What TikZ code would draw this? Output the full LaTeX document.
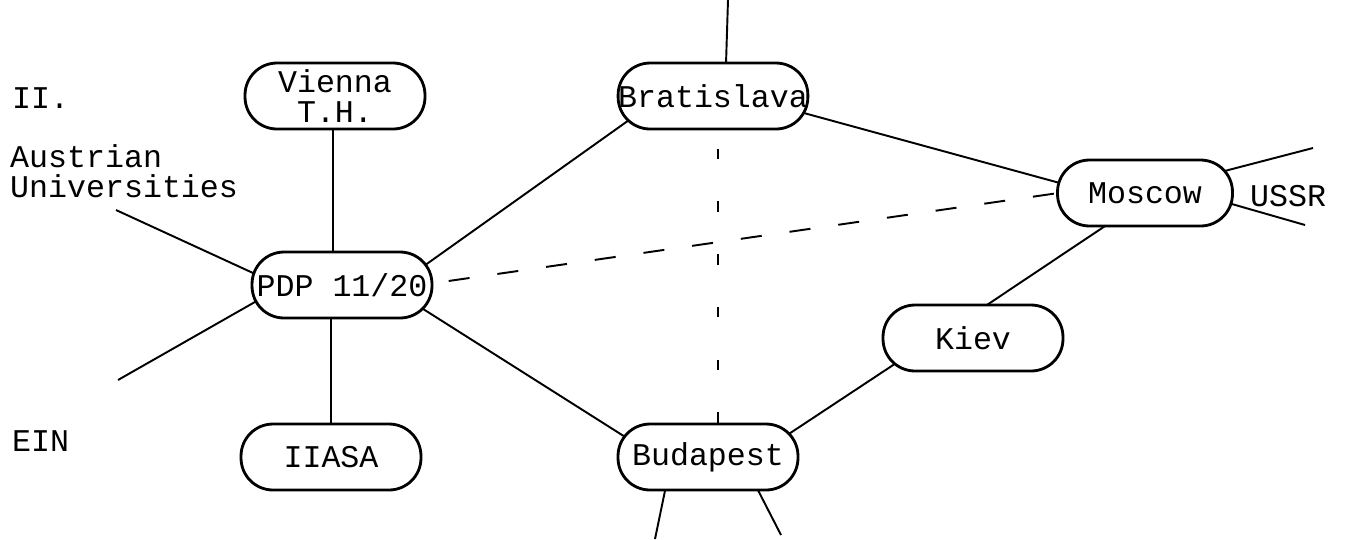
\documentclass[tikz,border=0pt]{standalone}
\usepackage{fontspec}
\newfontfamily\typewriter{Liberation Mono}
\usetikzlibrary{backgrounds}
\begin{document}
\begin{tikzpicture}[x=0.02cm, y=-0.02cm,
	every node/.style={font=\typewriter\fontsize{18}{17}\selectfont},
	station/.style={draw, fill=white, line width=1.6pt, rounded corners=0.64cm, minimum width=3.6cm, minimum height=1.32cm, inner sep=0pt, align=center},
	link/.style={line width=1.1pt},
	farlink/.style={link, dash pattern=on 12pt off 16pt},
	weaklink/.style={link, dash pattern=on 6pt off 24pt}]
		\useasboundingbox (0,0) rectangle (1346,539);
		% computers
		\node[station] (vienna) at (335,96) {Vienna\\T.H.};
		\node[station] (pdp) at (342,285) {PDP 11/20};
		\node[station] (iiasa) at (331,457) {IIASA};
		\node[station, minimum width=3.48cm] (brat) at (713,96) {Bratislava};
		\node[station, minimum width=3.5cm] (moscow) at (1145,193) {Moscow};
		\node[station] (kiev) at (973,338) {Kiev};
		\node[station] (budapest) at (708,457) {Budapest};
		% outside labels
		\node[anchor=west] (region) at (6,98) {II.};
		\node[anchor=west, align=left] (austria) at (4,171) {Austrian\\Universities};
		\node[anchor=west] (ein) at (6,441) {EIN};
		\node[anchor=west] (ussr) at (1244,196) {USSR};
		% free ends
		\coordinate (uniend) at (116,210);
		\coordinate (einend) at (118,380);
		\coordinate (northend) at (728,0);
		\coordinate (ussrup) at (1313,148);
		\coordinate (ussrdown) at (1305,225);
		\coordinate (southwest) at (655,539);
		\coordinate (southeast) at (781,535);
		\begin{scope}[on background layer]
		\draw[link] ([xshift=-0.04cm]vienna.center) -- ([xshift=-0.04cm]vienna |- pdp);
		\draw[link] (iiasa) -- (iiasa |- pdp);
		\draw[link] (uniend) -- ([shift={(-52,5)}]pdp.center);
		\draw[link] (einend) -- ([shift={(-52,-3)}]pdp.center);
		\draw[link] ([shift={(58,-2)}]pdp.center) -- ([shift={(-53,2)}]brat.center);
		\draw[farlink] ([shift={(58,3)}]pdp.center) -- ([shift={(-45,-6)}]moscow.center);
		\draw[link] ([shift={(48,3)}]pdp.center) -- ([shift={(-48,2)}]budapest.center);
		\draw[link] ([shift={(47,5)}]brat.center) -- ([shift={(-45,1)}]moscow.center);
		\draw[link] (northend) -- ([shift={(12,0)}]brat.center);
		\draw[weaklink] ([shift={(5,0)}]brat.center) -- ([shift={(10,0)}]budapest.center);
		\draw[link] ([shift={(-1,7)}]moscow.center) -- ([shift={(-31,-3)}]kiev.center);
		\draw[link] ([shift={(-42,2)}]kiev.center) -- ([shift={(49,-2)}]budapest.center);
		\draw[link] ([shift={(-36,0)}]budapest.center) -- (southwest);
		\draw[link] ([shift={(33,0)}]budapest.center) -- (southeast);
		\draw[link] ([shift={(45,-13)}]moscow.center) -- (ussrup);
		\draw[link] ([shift={(45,-1)}]moscow.center) -- (ussrdown);
		\end{scope}
\end{tikzpicture}
\end{document}
